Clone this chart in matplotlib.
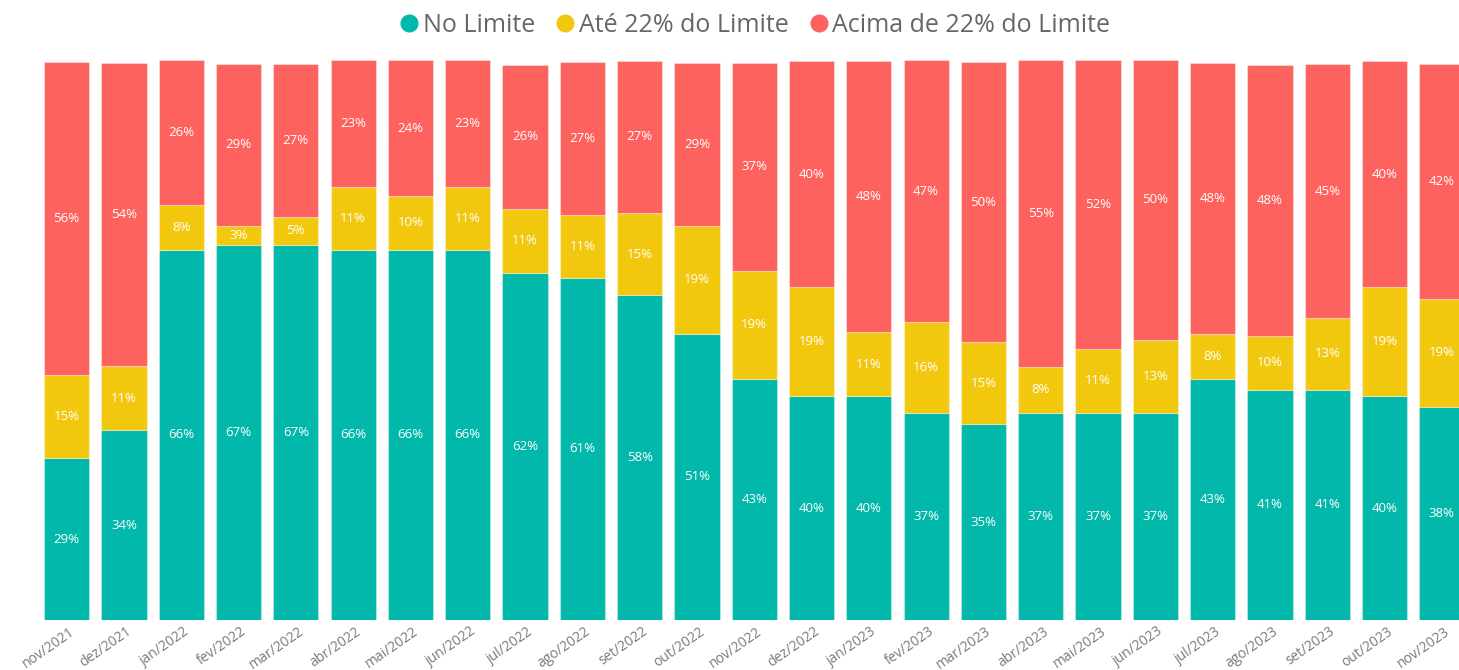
import matplotlib
matplotlib.use("Agg")
import matplotlib.pyplot as plt
from matplotlib.lines import Line2D
import matplotlib.transforms as mtransforms
import numpy as np

categories = ["nov/2021", "dez/2021", "jan/2022", "fev/2022", "mar/2022", "abr/2022",
              "mai/2022", "jun/2022", "jul/2022", "ago/2022", "set/2022", "out/2022",
              "nov/2022", "dez/2022", "jan/2023", "fev/2023", "mar/2023", "abr/2023",
              "mai/2023", "jun/2023", "jul/2023", "ago/2023", "set/2023", "out/2023",
              "nov/2023"]
no_limite = [28.9, 33.9, 66.1, 67.0, 67.0, 66.1, 66.1, 66.1, 62.0, 61.1, 58.0, 51.1,
             43.0, 40.0, 40.0, 37.0, 35.0, 37.0, 37.0, 37.0, 43.0, 41.1, 41.1, 40.0, 38.0]
ate_22 = [14.8, 11.4, 8.0, 3.4, 5.0, 11.2, 9.6, 11.2, 11.4, 11.2, 14.6, 19.3,
          19.4, 19.4, 11.4, 16.2, 14.6, 8.2, 11.4, 13.0, 8.0, 9.6, 12.9, 19.4, 19.4]
acima_22 = [55.9, 54.1, 25.9, 28.9, 27.3, 22.7, 24.3, 22.7, 25.7, 27.4, 27.3, 29.1,
            37.0, 40.4, 48.4, 46.8, 50.0, 54.8, 51.6, 50.0, 48.4, 48.4, 45.2, 40.4, 41.8]
series_names = ["No Limite", "Até 22% do Limite", "Acima de 22% do Limite"]
colors = ["#01B8AA", "#F2C80F", "#FD625E"]

plt.rcParams['font.family'] = ['Open Sans', 'DejaVu Sans']

W, H = 1459, 670
fig = plt.figure(figsize=(W / 100, H / 100), dpi=100)
left_px, right_px = 38.0, 38.0 + 25 * 57.3
bottom_px, top_px = 620.0, 60.0
ax = fig.add_axes([left_px / W, (H - bottom_px) / H,
                   (right_px - left_px) / W, (bottom_px - top_px) / H])

x = np.arange(len(categories))
bottom = np.zeros(len(categories))
for vals, col in zip([no_limite, ate_22, acima_22], colors):
    vals = np.array(vals)
    ax.bar(x, vals, width=0.79, bottom=bottom, color=col,
           edgecolor=(1, 1, 1, 0.35), linewidth=0.8)
    for xi, b, v in zip(x, bottom, vals):
        ax.text(xi, b + v / 2, f"{v:.0f}%", ha='center', va='center',
                color='white', fontsize=9.5)
    bottom += vals

ax.set_xlim(-0.5, len(categories) - 0.5)
ax.set_ylim(0, 100)
for s in ax.spines.values():
    s.set_visible(False)
ax.set_yticks([])
ax.set_xticks(x)
ax.set_xticklabels(categories, rotation=35, ha='right', rotation_mode='anchor',
                   color='#7a7a7a', fontsize=10)
ax.tick_params(axis='x', length=0, pad=3)
offset = mtransforms.ScaledTranslation(2 / 100, 0, fig.dpi_scale_trans)
for lbl in ax.get_xticklabels():
    lbl.set_transform(lbl.get_transform() + offset)

handles = [Line2D([0], [0], marker='o', linestyle='None', markersize=12,
                  markerfacecolor=c, markeredgecolor=c) for c in colors]
fig.legend(handles, series_names, loc='center', ncol=3,
           bbox_to_anchor=((left_px + right_px) / 2 / W, 1 - 25 / H),
           frameon=False, fontsize=18, labelcolor='#666666',
           handletextpad=0.1, columnspacing=0.75, handlelength=0.9,
           borderaxespad=0)

fig.savefig("out.png", dpi=100)
